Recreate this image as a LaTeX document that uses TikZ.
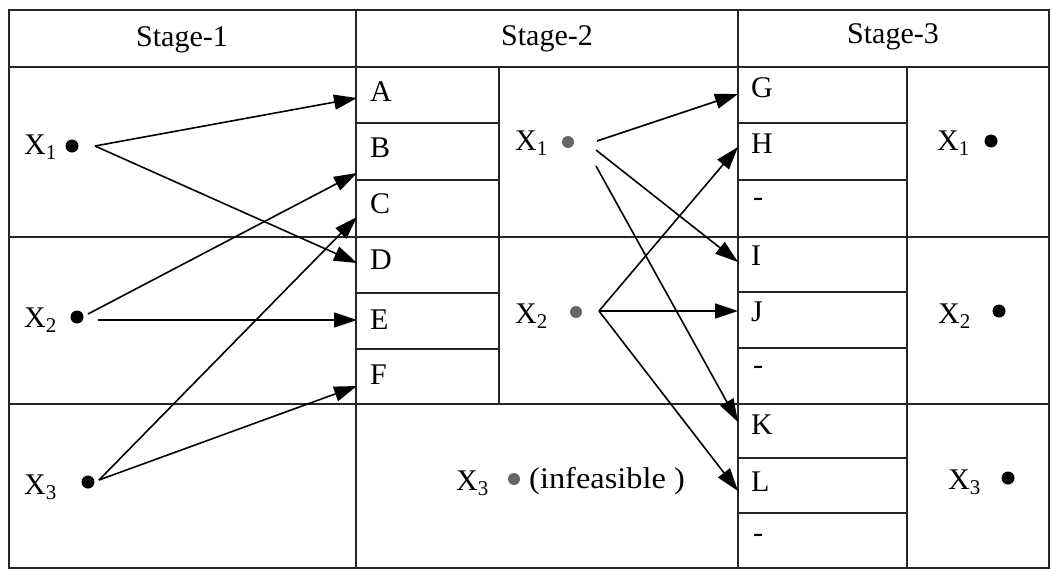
\documentclass[tikz,border=0pt]{standalone}
\usepackage{fontspec}
\setmainfont{Liberation Serif}
\usetikzlibrary{arrows.meta}
\begin{document}
\begin{tikzpicture}[x=1pt,y=-1pt,
  grid/.style={line width=1.4pt, black!85},
  lbl/.style={font=\fontsize{30}{34}\selectfont, inner sep=0pt},
  conn/.style={line width=1.6pt, -{Triangle[length=23pt,width=15pt]}},
  dotb/.style={circle, fill=black, inner sep=0pt, minimum size=13pt},
  dotg/.style={circle, fill=black!60, inner sep=0pt, minimum size=12pt}]
\useasboundingbox (0,0) rectangle (1052,570);
\fill[white] (0,0) rectangle (1052,570);
% ---------- grid ----------
\draw[grid] (9,10) rectangle (1049,568);
\draw[grid] (9,67) -- (1049,67);
\draw[grid] (356,10) -- (356,568);
\draw[grid] (738,10) -- (738,568);
\draw[grid] (499,67) -- (499,404);
\draw[grid] (907,67) -- (907,568);
\draw[grid] (9,237) -- (1049,237);
\draw[grid] (9,404) -- (1049,404);
\foreach \yy in {123,180,293,349} \draw[grid] (356,\yy) -- (499,\yy);
\foreach \yy in {123,180,292,348,458,513} \draw[grid] (738,\yy) -- (907,\yy);
% ---------- headers ----------
\node[lbl] (h1) at (182,40) {Stage-1};
\node[lbl] (h2) at (547,39) {Stage-2};
\node[lbl] (h3) at (893,37) {Stage-3};
% ---------- stage-2 letters ----------
\node[lbl, anchor=west] (A) at (370,92) {A};
\node[lbl, anchor=west] (B) at (370,148) {B};
\node[lbl, anchor=west] (C) at (370,204) {C};
\node[lbl, anchor=west] (D) at (370,260) {D};
\node[lbl, anchor=west] (E) at (370,320) {E};
\node[lbl, anchor=west] (F) at (370,375) {F};
% ---------- stage-3 letters ----------
\node[lbl, anchor=west] (G) at (751,88) {G};
\node[lbl, anchor=west] (H) at (751,144) {H};
\node[lbl, anchor=west] (m1) at (753,202) {-};
\node[lbl, anchor=west] (I) at (751,256) {I};
\node[lbl, anchor=west] (J) at (751,312) {J};
\node[lbl, anchor=west] (m2) at (753,370) {-};
\node[lbl, anchor=west] (K) at (751,425) {K};
\node[lbl, anchor=west] (L) at (751,482) {L};
\node[lbl, anchor=west] (m3) at (753,538) {-};
% ---------- stage-1 states ----------
\node[lbl, anchor=west] (s1x1) at (24,147) {X\textsubscript{1}};
\node[dotb] (s1d1) at (72,146) {};
\node[lbl, anchor=west] (s1x2) at (24,320) {X\textsubscript{2}};
\node[dotb] (s1d2) at (77,317) {};
\node[lbl, anchor=west] (s1x3) at (24,487) {X\textsubscript{3}};
\node[dotb] (s1d3) at (88,482) {};
% ---------- stage-2 states ----------
\node[lbl, anchor=west] (s2x1) at (515,143) {X\textsubscript{1}};
\node[dotg] (s2d1) at (568,142) {};
\node[lbl, anchor=west] (s2x2) at (515,316) {X\textsubscript{2}};
\node[dotg] (s2d2) at (576,312) {};
\node[lbl, anchor=west] (s2x3) at (456,483) {X\textsubscript{3}};
\node[dotg] (s2d3) at (514,479) {};
\node[lbl, anchor=west, xscale=1.08] (inf) at (529,481) {(infeasible )};
% ---------- stage-3 states ----------
\node[lbl, anchor=west] (s3x1) at (937,143) {X\textsubscript{1}};
\node[dotb] (s3d1) at (991,141) {};
\node[lbl, anchor=west] (s3x2) at (938,316) {X\textsubscript{2}};
\node[dotb] (s3d2) at (999,311) {};
\node[lbl, anchor=west] (s3x3) at (948,482) {X\textsubscript{3}};
\node[dotb] (s3d3) at (1008,478) {};
% ---------- arrow ends ----------
\coordinate (a11) at (95,146);
\coordinate (a21) at (88,314);
\coordinate (a22) at (98,320);
\coordinate (a31) at (99,480);
\coordinate (tA) at (357,98);
\coordinate (tB) at (357,173);
\coordinate (tC) at (357,217);
\coordinate (tD) at (357,263);
\coordinate (tE) at (357,320);
\coordinate (tF) at (357,386);
\coordinate (b11) at (597,141);
\coordinate (b12) at (596,150);
\coordinate (b13) at (596,166);
\coordinate (b21) at (599,311);
\coordinate (tG) at (738,94);
\coordinate (tH) at (738,147);
\coordinate (tI) at (738,262);
\coordinate (tJ) at (738,311);
\coordinate (tK) at (738,422);
\coordinate (tL) at (738,491);
% ---------- connectors ----------
\draw[conn] (a11) -- (tA);
\draw[conn] (a11) -- (tD);
\draw[conn] (a21) -- (tB);
\draw[conn] (a22) -- (tE);
\draw[conn] (a31) -- (tC);
\draw[conn] (a31) -- (tF);
\draw[conn] (b11) -- (tG);
\draw[conn] (b12) -- (tI);
\draw[conn] (b13) -- (tK);
\draw[conn] (b21) -- (tH);
\draw[conn] (b21) -- (tJ);
\draw[conn] (b21) -- (tL);
\end{tikzpicture}
\end{document}
